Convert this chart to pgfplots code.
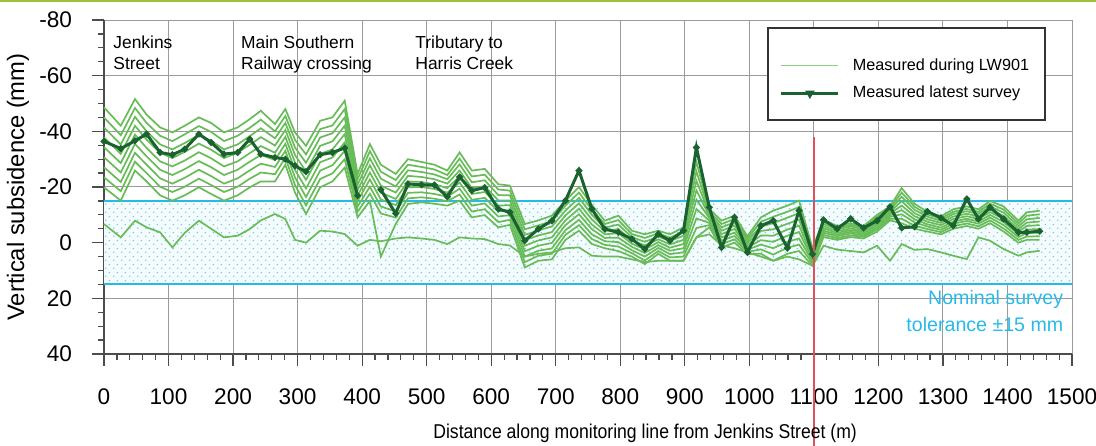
\documentclass[border=0pt]{standalone}
\usepackage{fontspec}
\setmainfont{Liberation Sans}
\newfontfamily\labfont{Liberation Sans}[FakeStretch=0.88]
\usepackage{pgfplots}
\pgfplotsset{compat=1.18}
\usepackage{pgfplotstable}
\usetikzlibrary{patterns.meta}
\definecolor{lightgr}{RGB}{104,188,88}
\definecolor{legendgr}{RGB}{140,205,130}
\definecolor{darkgr}{RGB}{26,98,48}
\definecolor{bandcyan}{RGB}{40,185,235}
\definecolor{dotcyan}{RGB}{115,200,232}
\definecolor{topgreen}{RGB}{160,192,60}
\definecolor{gridgray}{RGB}{155,155,155}
\definecolor{redline}{RGB}{225,80,90}

\tikzdeclarepattern{name=bdots, type=uncolored,
  bounding box={(0,0) and (4pt,4pt)}, tile size={(4pt,4pt)},
  code={\fill (1pt,1pt) circle (0.45pt); \fill (3pt,3pt) circle (0.45pt);}}

\pgfplotstableread{
x b0 b1 b2 b3 b4 b5 b6 b7 b8 L
0 -19.9 -23.5 -27.1 -30.7 -34.3 -37.8 -41.4 -45.0 -48.6 -6.7
26 -15.1 -18.5 -21.8 -25.2 -28.6 -31.9 -35.3 -38.6 -42.0 -1.9
48 -25.9 -29.1 -32.3 -35.5 -38.8 -42.0 -45.2 -48.4 -51.6 -7.9
66 -22 -25 -28 -31 -34 -37 -40 -43 -46 -5.5
87 -17 -20.1 -23.1 -26.2 -29.2 -32.3 -35.3 -38.4 -41.4 -3.7
106 -15.1 -18.2 -21.2 -24.3 -27.4 -30.4 -33.5 -36.5 -39.6 1.7
125 -17 -20.1 -23.3 -26.4 -29.5 -32.6 -35.8 -38.9 -42 -3.5
147 -19.9 -23.0 -26.2 -29.3 -32.5 -35.6 -38.7 -41.9 -45 -7.9
166 -17.5 -20.7 -23.9 -27.1 -30.3 -33.4 -36.6 -39.8 -43 -5
186 -15.1 -18.2 -21.2 -24.3 -27.4 -30.4 -33.5 -36.5 -39.6 -1.9
207 -17 -20.1 -23.1 -26.2 -29.2 -32.3 -35.3 -38.4 -41.4 -2.5
226 -19.9 -23.0 -26.0 -29.1 -32.2 -35.2 -38.3 -41.3 -44.4 -4.9
243 -22 -25.2 -28.4 -31.5 -34.7 -37.9 -41.1 -44.2 -47.4 -8
265 -22 -24.6 -27.2 -29.7 -32.3 -34.9 -37.5 -40.0 -42.6 -10.3
281 -28 -30.5 -33 -35.5 -38 -40.5 -43 -45.5 -48 -8.5
296 -18 -20.7 -23.4 -26.1 -28.8 -31.5 -34.2 -36.9 -39.6 -1
313 -10.3 -13.4 -16.4 -19.5 -22.6 -25.6 -28.7 -31.7 -34.8 0
335 -19.9 -22.9 -25.9 -28.9 -31.9 -34.8 -37.8 -40.8 -43.8 -4.3
354 -22 -24.9 -27.8 -30.6 -33.5 -36.4 -39.3 -42.1 -45 -4
373 -27 -30 -33 -36 -39 -42 -45 -48 -51 -3.1
393 -9.1 -11.1 -13.0 -15.0 -16.9 -18.9 -20.8 -22.8 -24.7 1.1
412 -15 -17.6 -20.1 -22.7 -25.2 -27.8 -30.3 -32.9 -35.4 -1
429 5 -10.5 -13 -15.5 -18 -20.5 -23 -25.5 -28 -0.5
452 -6.7 -9.0 -11.2 -13.5 -15.7 -18.0 -20.2 -22.5 -24.7 -1.5
471 -13.9 -15.9 -17.9 -19.9 -22.0 -24.0 -26.0 -28.0 -30 -1.9
492 -14.5 -16.3 -18.1 -20.0 -21.8 -23.6 -25.4 -27.2 -29 -1.5
512 -14 -15.8 -17.5 -19.3 -21 -22.8 -24.5 -26.3 -28 -1
532 -13.3 -14.9 -16.5 -18.0 -19.6 -21.2 -22.8 -24.3 -25.9 0.5
551 -15.1 -17.3 -19.4 -21.6 -23.8 -25.9 -28.1 -30.2 -32.4 -1.9
570 -9.1 -11.2 -13.3 -15.4 -17.5 -19.6 -21.7 -23.8 -25.9 -1.5
590 -9.9 -12.0 -14.1 -16.1 -18.2 -20.3 -22.4 -24.4 -26.5 -1.3
611 -5.5 -7.4 -9.4 -11.3 -13.3 -15.2 -17.1 -19.1 -21 0.5
629 -6.4 -8.2 -9.9 -11.7 -13.5 -15.2 -17.0 -18.7 -20.5 1
652 8.9 7.0 5.0 3.1 1.1 -0.9 -2.8 -4.8 -6.7 5
673 6.5 4.7 2.9 1.1 -0.8 -2.6 -4.4 -6.2 -8 4
694 6.0 4.0 2.1 0.1 -1.9 -3.8 -5.8 -7.7 -9.7 3.5
715 -1 -2.8 -4.5 -6.3 -8 -9.8 -11.5 -13.3 -15 2
736 -4.3 -6.3 -8.2 -10.2 -12.2 -14.1 -16.1 -18.0 -20 1.7
756 0.5 -1.3 -3 -4.8 -6.5 -8.3 -10 -11.8 -13.5 4.7
776 2 0.8 -0.5 -1.7 -3.0 -4.2 -5.4 -6.7 -7.9 5
797 3 1.4 -0.2 -1.8 -3.4 -4.9 -6.5 -8.1 -9.7 5
818 5 3.8 2.7 1.5 0.4 -0.8 -2.0 -3.1 -4.3 6
838 7.7 6.4 5.0 3.7 2.4 1.0 -0.3 -1.7 -3 7
859 4 3.0 1.9 0.9 -0.2 -1.2 -2.2 -3.3 -4.3 6.5
877 6.5 5.3 4.1 2.9 1.8 0.6 -0.6 -1.8 -3 6.5
898 6.5 5 3.5 2 0.5 -1 -2.5 -4 -5.5 6.5
918 -1.9 -5.3 -8.7 -12.1 -15.5 -18.8 -22.2 -25.6 -29 -1.9
938 -5.5 -6.3 -7.1 -7.9 -8.8 -9.6 -10.4 -11.2 -12 -3
957 1.7 0.5 -0.7 -1.9 -3.1 -4.3 -5.5 -6.7 -7.9 1
977 0 -1.2 -2.4 -3.6 -4.9 -6.1 -7.3 -8.5 -9.7 2
997 4.1 3.3 2.5 1.7 0.9 0.1 -0.7 -1.5 -2.3 3.5
1018 4 2.4 0.7 -0.9 -2.6 -4.2 -5.8 -7.5 -9.1 5
1037 6.5 4.3 2 -0.3 -2.5 -4.8 -7 -9.3 -11.5 6.5
1059 4 1.8 -0.3 -2.5 -4.7 -6.8 -9.0 -11.1 -13.3 5
1077 3 0.7 -1.5 -3.8 -6.1 -8.3 -10.6 -12.8 -15.1 6
1098 8.3 7.5 6.7 5.9 5.2 4.4 3.6 2.8 2 8.3
1115 -2 -2.8 -3.6 -4.3 -5.1 -5.9 -6.7 -7.4 -8.2 1.1
1136 -1 -1.6 -2.3 -2.9 -3.5 -4.1 -4.8 -5.4 -6 2.5
1157 -2 -2.6 -3.3 -3.9 -4.5 -5.1 -5.8 -6.4 -7 3
1177 -1.5 -2.1 -2.6 -3.2 -3.8 -4.3 -4.9 -5.4 -6 3.5
1198 -4 -4.8 -5.5 -6.3 -7 -7.8 -8.5 -9.3 -10 1.1
1218 -8 -8.6 -9.3 -9.9 -10.5 -11.1 -11.8 -12.4 -13 6.5
1236 -7 -8.6 -10.2 -11.7 -13.3 -14.9 -16.5 -18.0 -19.6 0.5
1256 -5 -6.1 -7.3 -8.4 -9.5 -10.6 -11.8 -12.9 -14 2.6
1276 -4 -4.9 -5.8 -6.6 -7.5 -8.4 -9.3 -10.1 -11 2.3
1297 -3 -3.8 -4.6 -5.4 -6.3 -7.1 -7.9 -8.7 -9.5 3.5
1316 -5 -5.9 -6.8 -7.6 -8.5 -9.4 -10.3 -11.1 -12 4.7
1337 -6 -6.9 -7.8 -8.6 -9.5 -10.4 -11.3 -12.1 -13 5.9
1355 -5 -5.9 -6.8 -7.6 -8.5 -9.4 -10.3 -11.1 -12 -1.9
1373 -7 -8 -9 -10 -11 -12 -13 -14 -15 -0.7
1394 -4 -5.1 -6.3 -7.4 -8.5 -9.6 -10.8 -11.9 -13 2.3
1417 0 -1 -2 -3 -4 -4.9 -5.9 -6.9 -7.9 4.7
1430 -1 -2.2 -3.5 -4.7 -6 -7.2 -8.4 -9.7 -10.9 3.5
1450 -1 -2.3 -3.6 -4.9 -6.3 -7.6 -8.9 -10.2 -11.5 2.9
}\light

\pgfplotstableread{
x y
0 -36.4
26 -33.8
48 -36.6
66 -39.0
87 -32.4
106 -31.6
125 -33.6
147 -39.0
166 -36.0
186 -31.8
207 -32.4
226 -37.2
243 -31.8
265 -30.6
281 -30.0
296 -27.6
313 -25.5
335 -31.6
354 -32.4
373 -34.0
393 -16.9
410 nan
429 -19.0
452 -10.5
471 -21.1
492 -20.8
512 -20.7
532 -16.5
551 -23.6
570 -18.7
590 -19.8
611 -12.1
629 -10.9
652 -0.7
673 -4.9
694 -7.9
715 -15.1
736 -25.9
756 -12.1
776 -4.9
797 -3.7
818 -1.3
838 2.3
859 -3.1
877 -0.7
898 -4.3
918 -34.2
938 -12.7
957 1.7
977 -9.1
997 3.5
1018 -6.1
1037 -7.9
1059 1.9
1077 -11.5
1098 4.1
1115 -8.2
1136 -5.0
1157 -8.6
1177 -5.3
1198 -7.9
1218 -12.9
1236 -5.3
1256 -5.7
1276 -11.2
1297 -8.9
1316 -6.1
1337 -15.7
1355 -8.5
1373 -12.7
1394 -8.5
1417 -3.7
1430 -3.7
1450 -4.1
}\dark

\pgfplotsset{
  lightleg/.style={legend image code/.code={\path (0pt,11pt) (33pt,0pt); \draw[legendgr, line width=0.6pt] (0pt,0pt) -- (28.5pt,0pt);}},
  darkleg/.style={legend image code/.code={\path (33pt,0pt); \draw[darkgr, line width=1.5pt, mark=triangle*, mark size=1.3pt, mark options={rotate=180}, mark repeat=2, mark phase=2] plot coordinates {(0pt,0pt) (14.25pt,0pt) (28.5pt,0pt)};}},
}

\begin{document}
\begin{tikzpicture}
\begin{axis}[
  scale only axis, width=484pt, height=167pt,
  xmin=0, xmax=1500, ymin=-80, ymax=40, y dir=reverse,
  xtick={0,100,...,1500},
  xticklabels={0,100,200,300,400,500,600,700,800,900,1000,1100,1200,1300,1400,1500},
  minor x tick num=4,
  ytick={-80,-60,-40,-20,0,20,40},
  yticklabels={-80,-60,-40,-20,0,20,40},
  minor y tick num=3,
  grid=major, major grid style={gridgray, line width=0.5pt},
  axis x line*=bottom, axis y line*=left,
  axis line style={black!70, line width=0.8pt},
  x axis line style={shorten <=-5.5pt},
  tick align=outside, major tick length=6pt, minor tick length=3pt,
  every tick/.style={black!70, line width=0.6pt},
  xticklabel style={font=\fontsize{11.3}{13}\selectfont, anchor=center, yshift=-15.5pt},
  yticklabel style={font=\fontsize{11.3}{13}\selectfont, xshift=-6.5pt},
  xlabel={Distance along monitoring line from Jenkins Street (m)},
  ylabel={Vertical subsidence (mm)},
  xlabel style={font=\labfont\fontsize{10}{12}\selectfont, at={(axis description cs:0.559,-0.2365)}, anchor=center},
  ylabel style={font=\fontsize{11.9}{13}\selectfont, at={(axis description cs:-0.0888,0.5)}, anchor=center},
  clip=false,
  unbounded coords=jump,
  legend style={at={(axis description cs:0.685,0.979)}, anchor=north west,
    draw=black!80, line width=0.8pt, fill=white,
    font=\fontsize{8.1}{10}\selectfont, inner xsep=6pt, inner ysep=7.5pt,
    row sep=2.5pt},
  legend cell align=left,
]
% tolerance band
\addplot[draw=none, fill=cyan!4, forget plot] coordinates {(0,-15) (1500,-15) (1500,15) (0,15)} -- cycle;
\addplot[draw=none, pattern=bdots, pattern color=dotcyan, forget plot] coordinates {(0,-15) (1500,-15) (1500,15) (0,15)} -- cycle;
\addplot[bandcyan, line width=1pt, forget plot] coordinates {(0,-15) (1500,-15)};
\addplot[bandcyan, line width=1pt, forget plot] coordinates {(0,15) (1500,15)};

% light series (surveys during LW901)
\addplot[lightgr, line width=0.85pt, lightleg] table[x=x, y=b0] {\light};
\addlegendentry{Measured during LW901}
\addplot[lightgr, line width=0.85pt, forget plot] table[x=x, y=b1] {\light};
\addplot[lightgr, line width=0.85pt, forget plot] table[x=x, y=b2] {\light};
\addplot[lightgr, line width=0.85pt, forget plot] table[x=x, y=b3] {\light};
\addplot[lightgr, line width=0.85pt, forget plot] table[x=x, y=b4] {\light};
\addplot[lightgr, line width=0.85pt, forget plot] table[x=x, y=b5] {\light};
\addplot[lightgr, line width=0.85pt, forget plot] table[x=x, y=b6] {\light};
\addplot[lightgr, line width=0.85pt, forget plot] table[x=x, y=b7] {\light};
\addplot[lightgr, line width=0.85pt, forget plot] table[x=x, y=b8] {\light};
\addplot[lightgr, line width=0.85pt, forget plot] table[x=x, y=L] {\light};

% latest survey
\addplot[darkgr, line width=1.5pt, mark=*, mark size=0.8pt, darkleg] table[x=x, y=y] {\dark};
\addlegendentry{Measured latest survey}

% red marker line
\addplot[redline, line width=0.7pt, forget plot] coordinates {(1100,-38) (1100,74)};

% annotations
\node[anchor=north west, align=left, font=\fontsize{8.7}{10.5}\selectfont, inner sep=0pt] at (axis cs:14,-74.5) {Jenkins\\Street};
\node[anchor=north west, align=left, font=\fontsize{8.7}{10.5}\selectfont, inner sep=0pt] at (axis cs:212,-74.5) {Main Southern\\Railway crossing};
\node[anchor=north west, align=left, font=\fontsize{8.7}{10.5}\selectfont, inner sep=0pt] at (axis cs:482,-74.5) {Tributary to\\Harris Creek};
\node[anchor=north east, align=right, text=bandcyan, font=\fontsize{9.8}{13.5}\selectfont, inner sep=0pt] at (axis cs:1487,16.8) {Nominal survey\\tolerance ±15 mm};
\end{axis}
\pgfresetboundingbox
\path[use as bounding box] ([xshift=-52pt,yshift=-46pt]current axis.south west) rectangle ([xshift=12pt,yshift=10pt]current axis.north east);
\draw[topgreen, line width=1.2pt] ([xshift=-52pt,yshift=9.6pt]current axis.north west) -- ([xshift=12pt,yshift=9.6pt]current axis.north east);
\end{tikzpicture}
\end{document}
